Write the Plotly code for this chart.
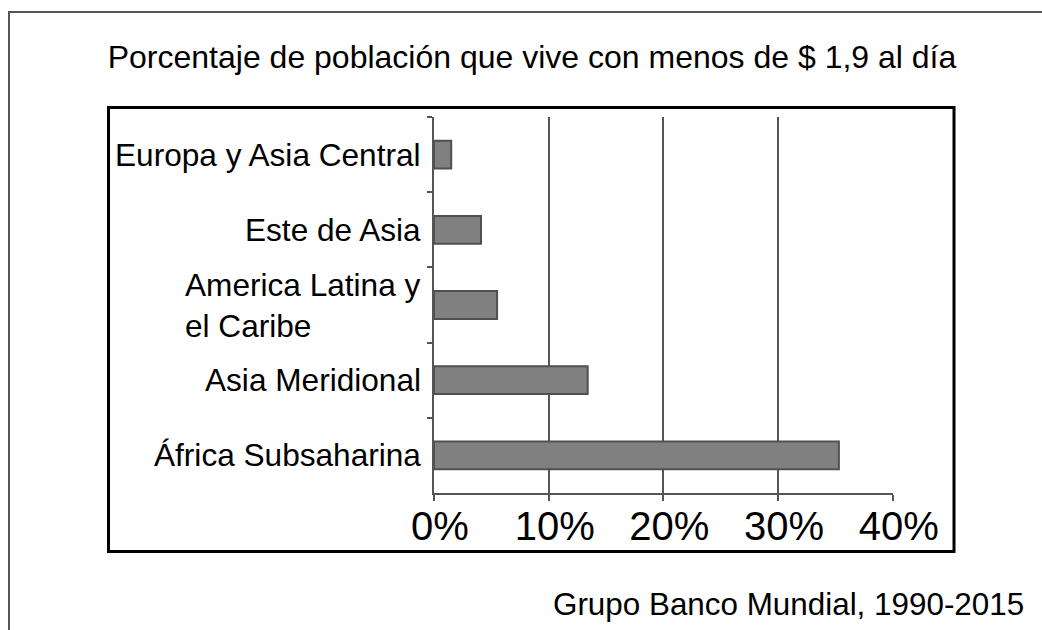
import plotly.graph_objects as go

categories = ["Europa y Asia Central", "Este de Asia", "America Latina y<br>el Caribe",
              "Asia Meridional", "África Subsaharina"]
values = [1.5, 4.1, 5.5, 13.4, 35.3]
tick_vals = [0, 10, 20, 30, 40]
tick_text = ["0%", "10%", "20%", "30%", "40%"]
title_text = "Porcentaje de población que vive con menos de $ 1,9 al día"
source_text = "Grupo Banco Mundial, 1990-2015"

W, H = 1042, 630
L, R, T, B = 434, 893, 117, 493  # plot area in pixels
FONT = "Liberation Sans, Arial, sans-serif"


def px(x):
    return (x - L) / (R - L)


def py(y):
    return (B - y) / (B - T)


fig = go.Figure()
fig.add_trace(go.Bar(
    x=values, y=categories, orientation="h", width=0.37,
    marker=dict(color="#808080", line=dict(color="#505050", width=2)),
    hoverinfo="x+y",
))

annotations = []
for c in categories:
    annotations.append(dict(
        x=px(423), xref="paper", y=c, yref="y", text=c, showarrow=False,
        xanchor="right", yanchor="middle", align="left", yshift=0,
        font=dict(family=FONT, size=31.6, color="#000000"),
    ))
annotations.append(dict(
    x=px(1026), xref="paper", y=py(604), yref="paper", text=source_text,
    showarrow=False, xanchor="right", yanchor="middle",
    font=dict(family=FONT, size=31.4, color="#000000"),
))

shapes = [
    # outer frame
    dict(type="rect", xref="paper", yref="paper", x0=px(9), x1=px(1060),
         y0=py(660), y1=py(12), line=dict(color="#555555", width=2)),
    # inner frame
    dict(type="rect", xref="paper", yref="paper", x0=px(108.5), x1=px(954),
         y0=py(551.5), y1=py(107.5), line=dict(color="#000000", width=3)),
]

fig.update_layout(
    width=W, height=H,
    margin=dict(l=L, r=W - R, t=T, b=H - B, pad=0),
    paper_bgcolor="white", plot_bgcolor="white",
    showlegend=False,
    title=dict(text=title_text, x=532 / W, xanchor="center", y=1 - 57 / H,
               yanchor="middle", xref="container", yref="container",
               font=dict(family=FONT, size=32, color="#000000")),
    annotations=annotations,
    shapes=shapes,
    bargap=0.6,
)
fig.update_xaxes(
    range=[0, 40.02], tickvals=tick_vals, ticktext=tick_text,
    showgrid=True, gridcolor="#555555", gridwidth=2,
    showline=True, linecolor="#555555", linewidth=2,
    ticks="outside", ticklen=6, tickwidth=2, tickcolor="#555555",
    tickfont=dict(family=FONT, size=40, color="#000000"),
    ticklabelshift=6, ticklabelstandoff=-9, zeroline=False, fixedrange=True,
)
fig.update_yaxes(
    categoryorder="array", categoryarray=categories, autorange="reversed",
    showticklabels=False, tickson="boundaries",
    ticks="outside", ticklen=5, tickwidth=2, tickcolor="#555555",
    showline=True, linecolor="#555555", linewidth=2,
    showgrid=False, zeroline=False, fixedrange=True,
)

fig.write_html("out.html", config={"displayModeBar": False},
               post_script="document.body.style.margin='0';document.body.style.overflow='hidden';")
